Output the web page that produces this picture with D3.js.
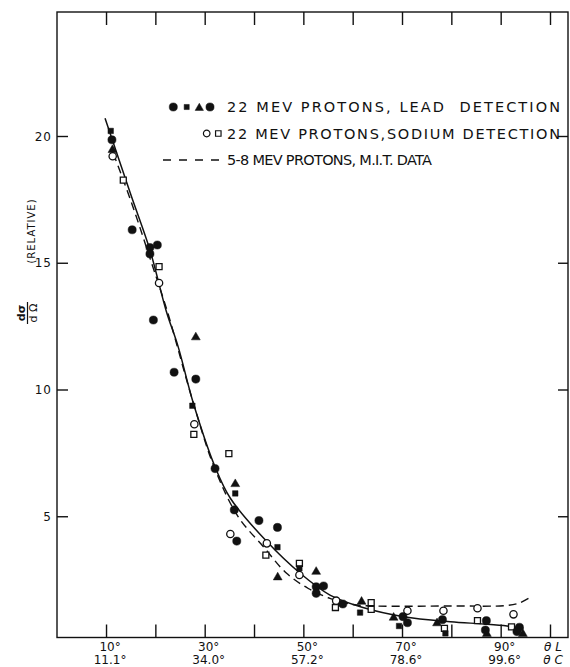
<!DOCTYPE html>
<html>
<head>
<meta charset="utf-8">
<script src="https://cdn.jsdelivr.net/npm/d3@7"></script>
<style>
body { margin: 0; background: #fff; }
svg text { font-family: "DejaVu Sans", sans-serif; fill: #111; }
</style>
</head>
<body>
<svg width="570" height="667"></svg>
<script>
// angle in lab degrees, value = dsigma/dOmega (relative)
var leadCircles = [[11.2,19.85],[15.3,16.3],[18.9,15.6],[20.4,15.7],[18.9,15.35],[19.6,12.74],[23.8,10.68],
  [28.2,10.41],[32.1,6.88],[36.0,5.25],[41.0,4.83],[44.75,4.56],[36.5,4.02],[52.6,2.22],[54.1,2.25],[52.6,1.96],
  [58.0,1.54],[70.2,1.04],[71.1,0.80],[78.2,0.92],[87.1,0.88],[86.9,0.51],[93.8,0.62],[93.3,0.45]];
var leadSquares = [[10.95,20.2],[27.5,9.36],[36.2,5.9],[44.75,3.78],[49.2,2.95],[61.5,1.2],[69.4,0.67],[78.8,0.38]];
var leadTriangles = [[11.3,19.45],[28.2,12.06],[36.2,6.27],[44.8,2.59],[52.6,2.81],[61.8,1.63],[68.3,1.0],
  [77.1,0.78],[87.2,0.36],[94.5,0.36]];
var sodiumCircles = [[11.35,19.2],[20.75,14.2],[27.9,8.63],[35.2,4.3],[42.6,3.93],[49.2,2.68],[56.65,1.67],
  [71.1,1.27],[78.4,1.27],[85.3,1.37],[92.6,1.13]];
var sodiumSquares = [[13.5,18.26],[20.75,14.85],[27.8,8.23],[34.9,7.47],[42.4,3.47],[49.2,3.14],[56.5,1.4],
  [63.75,1.59],[63.75,1.33],[78.6,0.58],[85.3,0.88],[92.2,0.64]];

// smooth curve through the 22 MeV points, and the 5-8 MeV M.I.T. curve
var fitCurve = [[9.8,20.7],[15.0,17.7],[18.9,15.5],[22.2,13.1],[24.6,11.7],[27.7,9.46],[32.1,6.95],[35.2,5.71],
  [42.6,4.0],[49.35,2.75],[55.4,1.89],[61.9,1.41],[70.3,1.04],[79.8,0.84],[86.5,0.75],[91.3,0.67],[94.6,0.58]];
var mitCurve = [[11.5,19.3],[15.2,17.35],[19.5,14.83],[22.4,13.1],[27.5,9.6],[32.0,6.9],[36.8,4.98],[41.9,3.8],
  [46.6,2.75],[51.0,2.15],[55.4,1.76],[60.0,1.52],[64.2,1.46],[80,1.46],[91.3,1.48],[93.8,1.58],[96.0,1.8]];

var xTicks = [10,20,30,40,50,60,70,80,90,100];
var yTicks = [5,10,15,20];
var labelTicks = [10,30,50,70,90];
var labLabels = ["10°","30°","50°","70°","90°"];
var cmLabels = ["11.1°","34.0°","57.2°","78.6°","99.6°"];

var legendText = ["22 MEV PROTONS, LEAD  DETECTION", "22 MEV PROTONS,SODIUM DETECTION", "5-8 MEV PROTONS, M.I.T. DATA"];

var frameL = 57, frameT = 12, frameR = 568, frameB = 637.5;
var ink = "#111";

var x = d3.scaleLinear().domain([0,100]).range([56.7,550]);
var y = d3.scaleLinear().domain([0,20]).range([643,136]);

var svg = d3.select('svg');

// frame
svg.append('rect')
  .attr('x', frameL).attr('y', frameT)
  .attr('width', frameR-frameL).attr('height', frameB-frameT)
  .attr('fill', 'none').attr('stroke', ink).attr('stroke-width', 1.4);

var xB = svg.append('g').attr('transform','translate(0,'+frameB+')')
  .call(d3.axisBottom(x).tickValues(xTicks).tickSizeInner(-13).tickSizeOuter(0).tickFormat(''));
var xT = svg.append('g').attr('transform','translate(0,'+frameT+')')
  .call(d3.axisTop(x).tickValues(xTicks).tickSizeInner(-13).tickSizeOuter(0).tickFormat(''));
var yL = svg.append('g').attr('transform','translate('+frameL+',0)')
  .call(d3.axisLeft(y).tickValues(yTicks).tickSizeInner(-11).tickSizeOuter(0).tickFormat(''));
var yR = svg.append('g').attr('transform','translate('+frameR+',0)')
  .call(d3.axisRight(y).tickValues(yTicks).tickSizeInner(-10).tickSizeOuter(0).tickFormat(''));
[xB,xT,yL,yR].forEach(function(g){
  g.select('.domain').remove();
  g.selectAll('line').attr('stroke', ink).attr('stroke-width', 1.4);
});

// y tick labels
svg.selectAll('.ylab').data(yTicks).enter().append('text')
  .attr('class','ylab')
  .attr('x', 52).attr('y', d=>y(d)+4.5)
  .attr('text-anchor','end')
  .attr('font-size', 12).attr('letter-spacing', 1)
  .text(d=>d);

// x tick labels, two rows
svg.selectAll('.xlab1').data(labelTicks).enter().append('text')
  .attr('x', d=>x(d)+4).attr('y', 651)
  .attr('text-anchor','middle').attr('font-size', 12)
  .text((d,i)=>labLabels[i]);
svg.selectAll('.xlab2').data(labelTicks).enter().append('text')
  .attr('x', d=>x(d)+4).attr('y', 664)
  .attr('text-anchor','middle').attr('font-size', 12)
  .text((d,i)=>cmLabels[i]);
svg.append('text').attr('x', x(100)+3).attr('y', 651).attr('text-anchor','middle')
  .attr('font-size', 12).attr('font-style','italic').text('θ L');
svg.append('text').attr('x', x(100)+3).attr('y', 664).attr('text-anchor','middle')
  .attr('font-size', 12).attr('font-style','italic').text('θ C');

// y axis title (rotated)
svg.append('text')
  .attr('transform','translate(35,231) rotate(-90)')
  .attr('text-anchor','middle').attr('font-size', 10).attr('letter-spacing', 1)
  .text('(RELATIVE)');
svg.append('text')
  .attr('transform','translate(25,313) rotate(-90)')
  .attr('text-anchor','middle').attr('font-size', 11).attr('font-weight','bold')
  .text('dσ');
svg.append('line')
  .attr('x1', 27.5).attr('x2', 27.5).attr('y1', 302).attr('y2', 324)
  .attr('stroke', ink).attr('stroke-width', 1.2);
svg.append('text')
  .attr('transform','translate(37,313) rotate(-90)')
  .attr('text-anchor','middle').attr('font-size', 11)
  .text('d Ω');

// curves
var line = d3.line().x(d=>x(d[0])).y(d=>y(d[1])).curve(d3.curveCatmullRom.alpha(0.5));
svg.append('path').attr('d', line(mitCurve))
  .attr('fill','none').attr('stroke', ink).attr('stroke-width', 1.4).attr('stroke-dasharray','8,5');
svg.append('path').attr('d', line(fitCurve))
  .attr('fill','none').attr('stroke', ink).attr('stroke-width', 1.5);

// markers
function drawMarks(data, type, size, open) {
  svg.append('g').selectAll('path').data(data).enter().append('path')
    .attr('transform', d=>'translate('+x(d[0])+','+y(d[1])+')')
    .attr('d', d3.symbol().type(type).size(size))
    .attr('fill', open ? '#fff' : ink)
    .attr('stroke', ink).attr('stroke-width', open ? 1.3 : 0.5);
}
drawMarks(sodiumSquares, d3.symbolSquare, 36, true);
drawMarks(sodiumCircles, d3.symbolCircle, 42, true);
drawMarks(leadTriangles, d3.symbolTriangle, 34, false);
drawMarks(leadSquares, d3.symbolSquare, 30, false);
drawMarks(leadCircles, d3.symbolCircle, 52, false);

// legend
var lg = svg.append('g');
var legendMarks = [[173.3,107,d3.symbolCircle,52,false],[186.7,107,d3.symbolSquare,26,false],
  [199.3,108,d3.symbolTriangle,30,false],[210,107,d3.symbolCircle,52,false],
  [206.7,133.5,d3.symbolCircle,34,true],[218.3,133.5,d3.symbolSquare,30,true]];
legendMarks.forEach(function(m){
  lg.append('path').attr('transform','translate('+m[0]+','+m[1]+')')
    .attr('d', d3.symbol().type(m[2]).size(m[3]))
    .attr('fill', m[4] ? '#fff' : ink).attr('stroke', ink).attr('stroke-width', m[4] ? 1.2 : 0.5);
});
lg.append('line').attr('x1',163).attr('x2',222).attr('y1',160).attr('y2',160)
  .attr('stroke', ink).attr('stroke-width', 1.4).attr('stroke-dasharray','8,8');
var legendY = [112, 138.5, 165];
var legendW = [333, 333, 205];
legendText.forEach(function(t,i){
  lg.append('text').attr('x', 227).attr('y', legendY[i])
    .attr('font-size', 14.5).attr('textLength', legendW[i]).attr('lengthAdjust','spacing')
    .attr('xml:space','preserve')
    .text(t);
});
</script>
</body>
</html>
